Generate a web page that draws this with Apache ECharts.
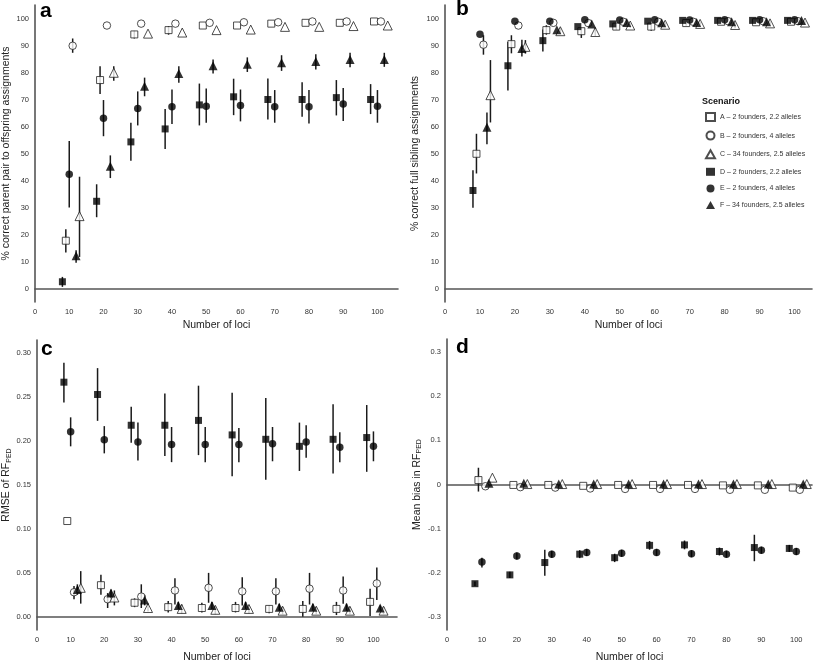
<!DOCTYPE html>
<html><head><meta charset="utf-8">
<script src="https://cdn.jsdelivr.net/npm/echarts@6/dist/echarts.min.js"></script>
<style>html,body{margin:0;padding:0;background:#fff}#c{width:814px;height:664px}</style>
</head><body><div id="c"></div>
<script>
// ---------- data ----------
const loci = [10, 20, 30, 40, 50, 60, 70, 80, 90, 100];
const scenarioKeys = ['A', 'B', 'C', 'D', 'E', 'F'];
const scenarioNames = ['A \u2013 2 founders, 2.2 alleles', 'B \u2013 2 founders, 4 alleles', 'C \u2013 34 founders, 2.5 alleles',
  'D \u2013 2 founders, 2.2 alleles', 'E \u2013 2 founders, 4 alleles', 'F \u2013 34 founders, 2.5 alleles'];
const dodge = { A: -1, B: 1, C: 3, D: -2, E: 0, F: 2 };
const xTicks = [0, 10, 20, 30, 40, 50, 60, 70, 80, 90, 100];
const yTicksPct = [0, 10, 20, 30, 40, 50, 60, 70, 80, 90, 100];
const yTicksRmse = [0, 0.05, 0.10, 0.15, 0.20, 0.25, 0.30];
const yTicksBias = [-0.3, -0.2, -0.1, 0, 0.1, 0.2, 0.3];
const N = null;

// panel a: % correct parent pair to offspring assignments
const aA = [17.7, 77.2, 94.1, 95.7, 97.4, 97.4, 98.1, 98.4, 98.4, 98.9];
const aAlo = [13.3, 72.0, 92.6, 94.0, N, N, N, N, N, N];
const aAhi = [21.9, 82.3, 95.4, 97.2, N, N, N, N, N, N];
const aB = [89.9, 97.4, 98.1, 98.1, 98.4, 98.6, 98.6, 98.9, 98.9, 98.9];
const aBlo = [87.3, N, N, N, N, N, N, N, N, N];
const aBhi = [92.6, N, N, N, N, N, N, N, N, N];
const aC = [26.8, 79.9, 94.4, 94.8, 95.7, 95.9, 96.9, 96.9, 97.2, 97.4];
const aClo = [11.7, 76.9, N, N, N, N, N, N, N, N];
const aChi = [41.4, 82.3, N, N, N, N, N, N, N, N];
const aD = [2.5, 32.3, 54.3, 59.1, 68.0, 71.0, 70.0, 70.0, 70.7, 70.0];
const aDlo = [0.6, 26.4, 47.3, 51.7, 60.4, 64.2, 62.6, 63.6, 64.1, 64.6];
const aDhi = [4.3, 38.6, 61.4, 66.5, 75.9, 77.7, 77.8, 76.4, 77.2, 75.7];
const aE = [42.3, 63.1, 66.7, 67.3, 67.5, 67.8, 67.3, 67.3, 68.3, 67.5];
const aElo = [30.0, 56.4, 60.4, 60.9, 61.4, 61.9, 61.4, 61.1, 62.0, 61.4];
const aEhi = [54.6, 69.8, 73.0, 73.7, 74.1, 73.7, 73.5, 73.5, 74.3, 73.5];
const aF = [12.1, 45.3, 74.9, 79.6, 82.5, 83.1, 83.6, 84.1, 84.8, 84.8];
const aFlo = [9.5, 40.9, 71.2, 76.2, 79.6, 80.2, 80.6, 81.1, 81.9, 82.1];
const aFhi = [14.2, 49.3, 78.1, 82.3, 84.8, 85.6, 86.4, 86.8, 87.3, 87.3];

// panel b: % correct full sibling assignments
const bA = [49.9, 90.5, 95.7, 95.3, 97.0, 97.0, 98.3, 98.8, 98.6, 98.8];
const bAlo = [42.6, 87.1, 94.0, 92.8, 95.8, 95.5, 97.3, N, N, N];
const bAhi = [57.3, 93.8, 97.5, 96.5, 98.0, 98.3, 99.2, N, N, N];
const bB = [90.3, 97.4, 98.4, 98.3, 98.8, 98.8, 98.8, 99.0, 99.0, 99.0];
const bBlo = [86.6, N, N, N, N, N, N, N, N, N];
const bBhi = [93.8, N, N, N, N, N, N, N, N, N];
const bC = [71.6, 89.5, 95.3, 95.0, 97.4, 97.7, 98.0, 97.6, 98.2, 98.5];
const bClo = [61.5, 87.0, 94.2, 93.5, 96.5, 96.8, 97.2, 96.4, 97.4, 97.8];
const bChi = [84.6, 92.0, 96.6, 96.5, 98.2, 98.5, 98.8, 98.6, 99.0, 99.2];
const bD = [36.3, 82.5, 91.8, 97.0, 98.0, 99.0, 99.3, 99.3, 99.3, 99.3];
const bDlo = [29.9, 73.3, 87.8, N, N, N, N, N, N, N];
const bDhi = [43.8, 91.3, 95.9, N, N, N, N, N, N, N];
const bE = [94.2, 99.0, 99.0, 99.5, 99.4, 99.5, 99.4, 99.5, 99.5, 99.5];
const bElo = [N, N, N, N, N, N, N, N, N, N];
const bEhi = [N, N, N, N, N, N, N, N, N, N];
const bF = [59.7, 88.9, 95.8, 98.0, 98.5, 98.4, 98.5, 98.8, 98.8, 99.3];
const bFlo = [53.4, 85.9, N, N, N, N, N, N, N, N];
const bFhi = [65.2, 92.1, N, N, N, N, N, N, N, N];

// panel c: RMSE of RF_PED
const cA = [0.109, 0.036, 0.016, 0.011, 0.010, 0.010, 0.009, 0.009, 0.009, 0.017];
const cAlo = [N, 0.025, 0.011, 0.005, 0.005, 0.005, 0.004, 0.000, 0.002, 0.001];
const cAhi = [N, 0.048, 0.021, 0.018, 0.016, 0.017, 0.013, 0.018, 0.017, 0.032];
const cB = [0.028, 0.020, 0.023, 0.030, 0.033, 0.029, 0.029, 0.032, 0.030, 0.038];
const cBlo = [0.020, 0.010, 0.010, 0.014, 0.016, 0.013, 0.014, 0.014, 0.015, 0.019];
const cBhi = [0.035, 0.027, 0.037, 0.044, 0.050, 0.045, 0.044, 0.050, 0.046, 0.056];
const cC = [0.033, 0.022, 0.010, 0.009, 0.008, 0.009, 0.007, 0.007, 0.007, 0.007];
const cClo = [0.015, 0.013, 0.006, 0.004, 0.003, 0.004, 0.003, 0.003, 0.003, 0.003];
const cChi = [0.052, 0.030, 0.014, 0.014, 0.012, 0.013, 0.011, 0.011, 0.011, 0.011];
const cD = [0.267, 0.253, 0.218, 0.218, 0.2235, 0.207, 0.202, 0.194, 0.202, 0.204];
const cDlo = [0.244, 0.223, 0.198, 0.183, 0.184, 0.160, 0.156, 0.166, 0.163, 0.165];
const cDhi = [0.289, 0.283, 0.239, 0.254, 0.263, 0.255, 0.249, 0.221, 0.242, 0.241];
const cE = [0.2105, 0.2016, 0.199, 0.196, 0.196, 0.196, 0.197, 0.199, 0.193, 0.194];
const cElo = [0.194, 0.186, 0.178, 0.176, 0.176, 0.176, 0.177, 0.181, 0.176, 0.177];
const cEhi = [0.227, 0.217, 0.221, 0.216, 0.216, 0.215, 0.216, 0.218, 0.210, 0.211];
const cF = [0.031, 0.027, 0.019, 0.013, 0.013, 0.013, 0.011, 0.011, 0.011, 0.010];
const cFlo = [0.025, 0.022, 0.013, 0.009, 0.009, 0.009, 0.007, 0.007, 0.007, 0.007];
const cFhi = [0.037, 0.031, 0.025, 0.017, 0.017, 0.017, 0.015, 0.015, 0.015, 0.013];

// panel d: mean bias in RF_PED
const dA = [0.010, -0.001, -0.001, -0.003, -0.001, -0.001, -0.001, -0.002, -0.002, -0.007];
const dAlo = [-0.016, N, N, N, N, N, N, N, N, N];
const dAhi = [0.038, N, N, N, N, N, N, N, N, N];
const dB = [-0.004, -0.006, -0.007, -0.009, -0.010, -0.010, -0.010, -0.012, -0.012, -0.012];
const dBlo = [N, N, N, N, N, N, N, N, N, N];
const dBhi = [N, N, N, N, N, N, N, N, N, N];
const dC = [0.0155, 0.001, 0.001, 0.001, 0.001, 0.001, 0.001, 0.001, 0.001, 0.001];
const dClo = [N, N, N, N, N, N, N, N, N, N];
const dChi = [N, N, N, N, N, N, N, N, N, N];
const dD = [-0.225, -0.205, -0.177, -0.158, -0.166, -0.138, -0.137, -0.152, -0.143, -0.145];
const dDlo = [-0.230, -0.212, -0.207, -0.167, -0.176, -0.148, -0.147, -0.161, -0.174, -0.153];
const dDhi = [-0.220, -0.198, -0.148, -0.149, -0.157, -0.128, -0.127, -0.143, -0.114, -0.137];
const dE = [-0.176, -0.162, -0.158, -0.154, -0.156, -0.154, -0.157, -0.158, -0.149, -0.152];
const dElo = [-0.188, -0.170, -0.166, -0.162, -0.164, -0.162, -0.165, -0.166, -0.157, -0.160];
const dEhi = [-0.166, -0.154, -0.150, -0.146, -0.148, -0.146, -0.149, -0.150, -0.141, -0.144];
const dF = [0.003, 0.003, 0.001, 0.001, 0.001, 0.001, 0.001, 0.001, 0.001, 0.001];
const dFlo = [N, N, N, N, N, N, N, N, N, N];
const dFhi = [N, N, N, N, N, N, N, N, N, N];

// ---------- assembly ----------
const panelData = [
  { A: [aA, aAlo, aAhi], B: [aB, aBlo, aBhi], C: [aC, aClo, aChi], D: [aD, aDlo, aDhi], E: [aE, aElo, aEhi], F: [aF, aFlo, aFhi] },
  { A: [bA, bAlo, bAhi], B: [bB, bBlo, bBhi], C: [bC, bClo, bChi], D: [bD, bDlo, bDhi], E: [bE, bElo, bEhi], F: [bF, bFlo, bFhi] },
  { A: [cA, cAlo, cAhi], B: [cB, cBlo, cBhi], C: [cC, cClo, cChi], D: [cD, cDlo, cDhi], E: [cE, cElo, cEhi], F: [cF, cFlo, cFhi] },
  { A: [dA, dAlo, dAhi], B: [dB, dBlo, dBhi], C: [dC, dClo, dChi], D: [dD, dDlo, dDhi], E: [dE, dElo, dEhi], F: [dF, dFlo, dFhi] }
];

const FONT = 'Liberation Sans, Arial, sans-serif';
const symbolFor = { A: 'rect', B: 'circle', C: 'triangle', D: 'rect', E: 'circle', F: 'triangle' };
const sizeFor = { A: 7, B: 7.5, C: 9, D: 7, E: 7.5, F: 9 };
const openSet = { A: true, B: true, C: true };

const grids = [
  { left: 31, top: 5, width: 367, height: 297 },
  { left: 445, top: 5, width: 367, height: 297 },
  { left: 32, top: 340, width: 365, height: 296 },
  { left: 447, top: 339, width: 365, height: 298 }
];
const yRanges = [[-5, 105], [-5, 105], [-0.015, 0.315], [-0.33, 0.33]];
const xMax = [106, 105, 107, 104.5];
const yTicks = [yTicksPct, yTicksPct, yTicksRmse, yTicksBias];
const yFmt = [v => String(v), v => String(v), v => v.toFixed(2), v => (v === 0 ? '0' : String(Math.round(v * 10) / 10))];
const yNames = ['% correct parent pair to offspring assignments', '% correct full sibling assignments',
  '{n|RMSE of RF}{s|PED}', '{n|Mean bias in RF}{s|PED}'];
const yNameGap = [23, 24, 24, 24];
const xNameGap = [18, 18, 22, 22];

const axisLine = { show: true, lineStyle: { color: '#555', width: 1.6 } };
const xAxes = grids.map((g, i) => ({
  type: 'value', gridIndex: i, min: 0, max: xMax[i],
  axisLine: axisLine, axisTick: { show: false }, splitLine: { show: false },
  axisLabel: { customValues: xTicks, fontSize: 7.5, color: '#333', fontFamily: FONT, margin: 6 },
  name: 'Number of loci', nameLocation: 'middle', nameGap: xNameGap[i],
  nameTextStyle: { fontSize: 10.5, color: '#222', fontFamily: FONT }
}));
const yAxes = grids.map((g, i) => ({
  type: 'value', gridIndex: i, min: yRanges[i][0], max: yRanges[i][1],
  axisLine: axisLine, axisTick: { show: false }, splitLine: { show: false },
  axisLabel: { customValues: yTicks[i], formatter: yFmt[i], fontSize: 7.5, color: '#333', fontFamily: FONT, margin: 6 },
  name: yNames[i], nameLocation: 'middle', nameGap: yNameGap[i],
  nameTextStyle: {
    fontSize: 10.5, color: '#222', fontFamily: FONT,
    rich: { n: { fontSize: 10.5, color: '#222', fontFamily: FONT }, s: { fontSize: 7, color: '#222', fontFamily: FONT, padding: [5, 0, 0, 0] } }
  }
}));

const series = [];
panelData.forEach((pd, pi) => {
  scenarioKeys.forEach((k) => {
    const [vals, lo, hi] = pd[k];
    const errData = [];
    loci.forEach((x, j) => { if (lo[j] != null && hi[j] != null) errData.push([x + dodge[k], lo[j], hi[j]]); });
    series.push({
      type: 'custom', xAxisIndex: pi, yAxisIndex: pi, z: 2, silent: true,
      encode: { x: 0, y: [1, 2] },
      data: errData,
      renderItem: (params, api) => {
        const p1 = api.coord([api.value(0), api.value(1)]);
        const p2 = api.coord([api.value(0), api.value(2)]);
        return { type: 'line', shape: { x1: p1[0], y1: p1[1], x2: p2[0], y2: p2[1] }, style: { stroke: '#1a1a1a', lineWidth: 1.5 } };
      }
    });
  });
  scenarioKeys.forEach((k, si) => {
    const [vals] = pd[k];
    series.push({
      type: 'scatter', name: scenarioNames[si], xAxisIndex: pi, yAxisIndex: pi, z: 5,
      symbol: symbolFor[k], symbolSize: sizeFor[k],
      itemStyle: openSet[k] ? { color: '#fff', borderColor: '#222', borderWidth: 1 } : { color: '#000', borderColor: '#000', borderWidth: 0 },
      data: loci.map((x, j) => [x + dodge[k], vals[j]])
    });
  });
});

const letterStyle = { fontSize: 21, fontWeight: 'bold', color: '#000', fontFamily: FONT };
const option = {
  animation: false,
  backgroundColor: '#fff',
  title: [
    { text: 'a', left: 40, top: 1, padding: 0, textStyle: letterStyle },
    { text: 'b', left: 456, top: -1, padding: 0, textStyle: letterStyle },
    { text: 'c', left: 41, top: 339, padding: 0, textStyle: letterStyle },
    { text: 'd', left: 456, top: 337, padding: 0, textStyle: letterStyle },
    { text: 'Scenario', left: 702, top: 97, padding: 0, textStyle: { fontSize: 9, fontWeight: 'bold', color: '#111', fontFamily: FONT } }
  ],
  legend: {
    orient: 'vertical', left: 705, top: 112, padding: 0, itemWidth: 9, itemHeight: 8, itemGap: 8.6,
    selectedMode: false, data: scenarioNames,
    textStyle: { fontSize: 7, color: '#333', fontFamily: FONT }
  },
  grid: grids,
  xAxis: xAxes,
  yAxis: yAxes,
  series: series
};
const chart = echarts.init(document.getElementById('c'), null, { renderer: 'canvas' });
chart.setOption(option);
</script></body></html>
